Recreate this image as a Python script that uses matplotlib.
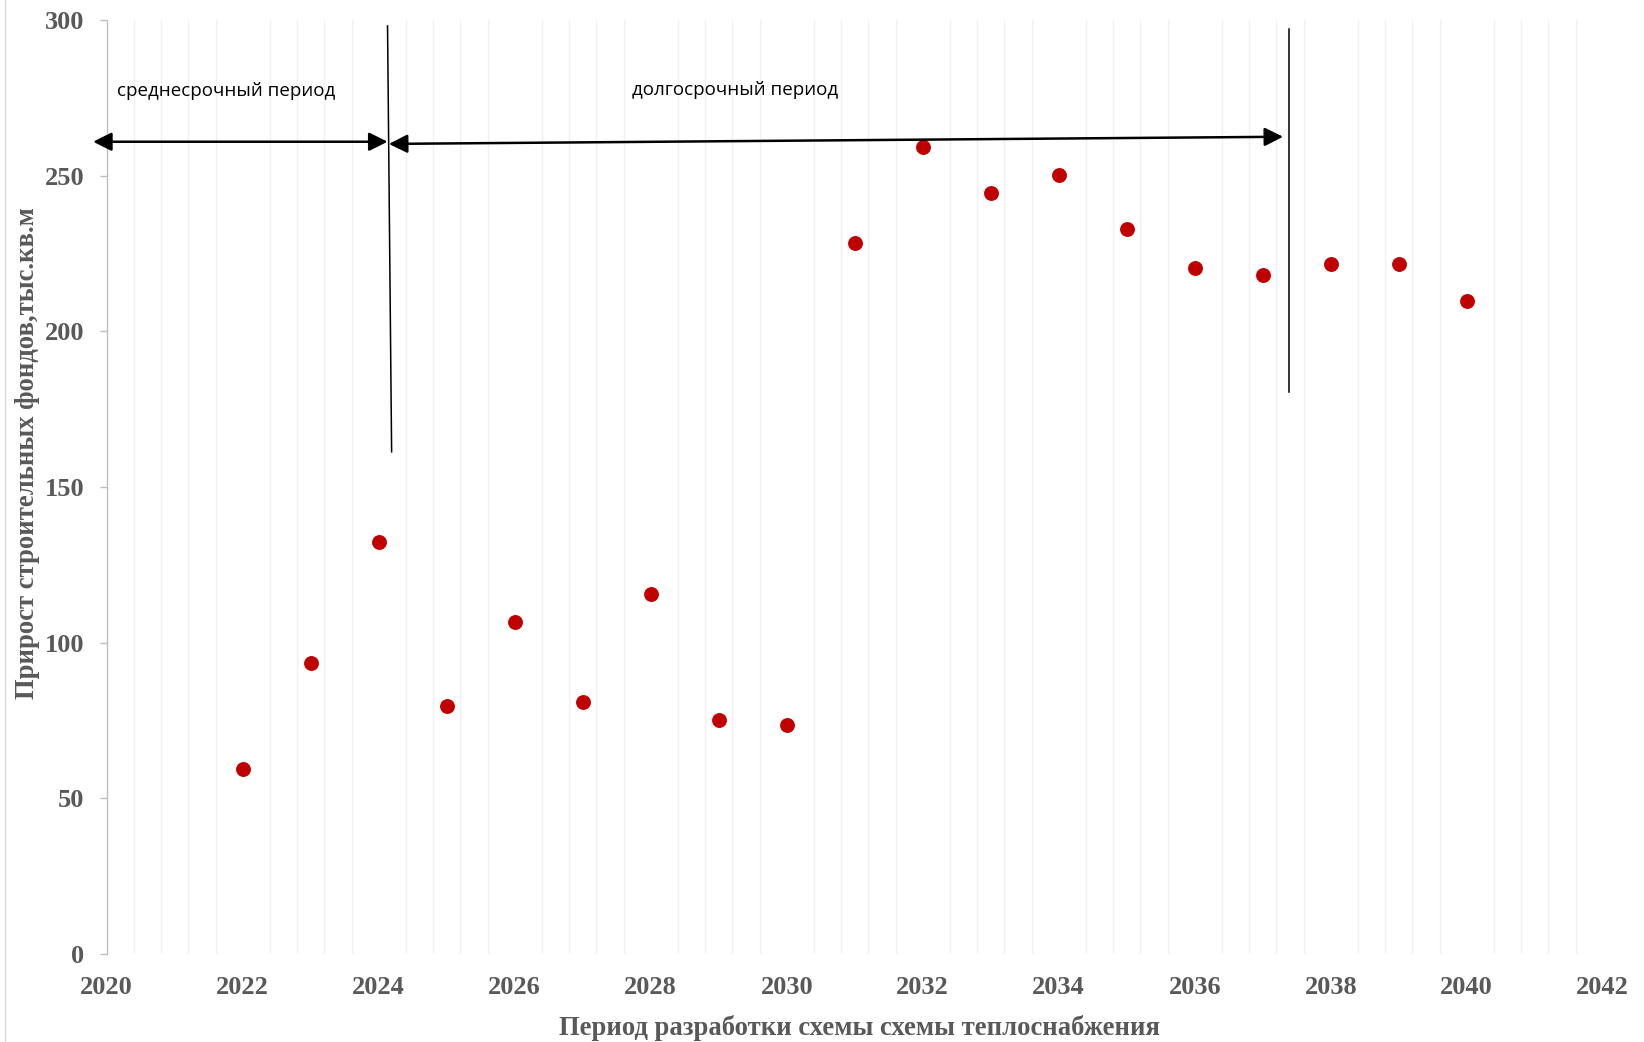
import matplotlib
matplotlib.use("Agg")
import matplotlib.pyplot as plt
import numpy as np

years = [2022, 2023, 2024, 2025, 2026, 2027, 2028, 2029, 2030, 2031,
         2032, 2033, 2034, 2035, 2036, 2037, 2038, 2039, 2040]
growth = [59.3, 93.6, 132.3, 79.5, 106.7, 80.8, 115.5, 75.1, 73.7, 228.3,
          259.3, 244.4, 250.2, 233.0, 220.2, 218.2, 221.5, 221.5, 209.8]

x_ticks = list(range(2020, 2043, 2))
y_ticks = [0, 50, 100, 150, 200, 250, 300]

label_mid = "среднесрочный период"
label_long = "долгосрочный период"
xlabel = "Период разработки схемы схемы теплоснабжения"
ylabel = "Прирост строительных фондов,тыс.кв.м"

W, H = 1644, 1042
fig = plt.figure(figsize=(W / 100, H / 100), dpi=100)
ax = fig.add_axes([106.7 / W, 1 - 954 / H, (1602.7 - 106.7) / W, (954 - 20) / H])

ax.set_xlim(2020, 2042)
ax.set_ylim(0, 300)

# minor gridlines every 0.4 years, skipping major ticks
minor = [2020 + 0.4 * k for k in range(1, 55)]
minor = [m for m in minor if abs(round(m / 2) * 2 - m) > 1e-6]
for m in minor:
    ax.axvline(m, color="#f0f0f0", lw=1.0, zorder=0)

ax.scatter(years, growth, s=115, color="#C00000", zorder=3, linewidths=0)

for s in ["top", "right", "bottom"]:
    ax.spines[s].set_visible(False)
ax.spines["left"].set_color("#bfbfbf")
ax.spines["left"].set_linewidth(1.0)

tick_font = dict(family="Liberation Serif", weight="bold", size=19)
ax.set_xticks(x_ticks)
ax.set_xticklabels([str(t) for t in x_ticks], color="#595959", **tick_font)
ax.set_yticks(y_ticks)
ax.set_yticklabels([str(t) for t in y_ticks], color="#595959", **tick_font)
ax.tick_params(axis="x", length=0, pad=16)
ax.tick_params(axis="y", length=5, width=1.0, color="#bfbfbf", pad=11)

lab_font = dict(family="Liberation Serif", weight="bold", size=19.2, color="#595959")
fig.text(28 / W, 1 - 453 / H, ylabel, rotation=90, ha="center", va="center", **lab_font)
fig.text(859 / W, 1 - 1028 / H, xlabel, ha="center", va="center", **lab_font)

# period separators
ax.plot([2024.13, 2024.19], [298.1, 161.3], color="black", lw=1.1, clip_on=False, zorder=4)
ax.plot([2037.38, 2037.38], [297.0, 180.6], color="black", lw=1.1, clip_on=False, zorder=4)

arrow = dict(arrowstyle="<|-|>", color="black", lw=1.8, mutation_scale=28,
             shrinkA=0, shrinkB=0)
ax.annotate("", xy=(2024.13, 260.9), xytext=(2019.80, 260.9),
            arrowprops=arrow, annotation_clip=False, zorder=5)
ax.annotate("", xy=(2037.30, 262.5), xytext=(2024.15, 260.2),
            arrowprops=arrow, annotation_clip=False, zorder=5)

txt_font = dict(family="Open Sans", size=13.5, color="black")
ax.text(2021.75, 277.2, label_mid, ha="center", va="center", **txt_font)
ax.text(2029.24, 277.6, label_long, ha="center", va="center", **txt_font)

# chart border on the left
fig.add_artist(plt.Line2D([5 / W, 5 / W], [0, 1], color="#d9d9d9", lw=1.0))

fig.savefig("out.png", dpi=100)
